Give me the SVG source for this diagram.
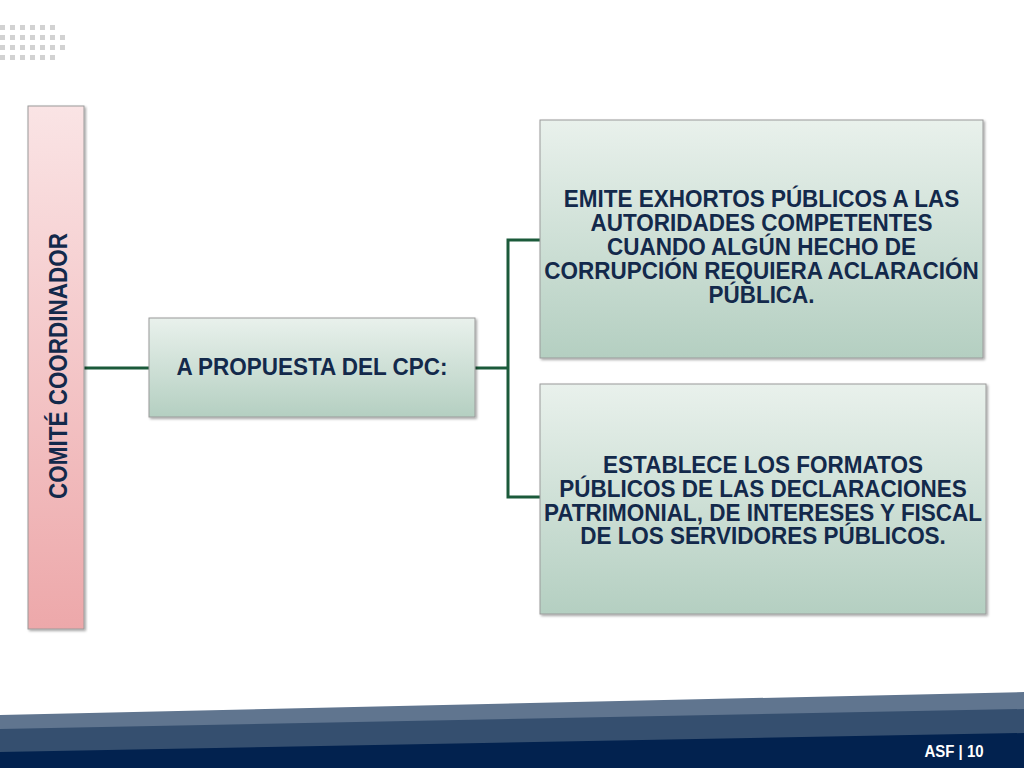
<svg xmlns="http://www.w3.org/2000/svg" width="1024" height="768" viewBox="0 0 1024 768">
<defs>
<linearGradient id="pink" x1="0" y1="0" x2="0" y2="1">
<stop offset="0" stop-color="#fae4e5"/>
<stop offset="1" stop-color="#eda8aa"/>
</linearGradient>
<linearGradient id="green" x1="0" y1="0" x2="0" y2="1">
<stop offset="0" stop-color="#e9f1ec"/>
<stop offset="1" stop-color="#b4cfc1"/>
</linearGradient>
<filter id="sh" x="-5%" y="-5%" width="112%" height="112%">
<feDropShadow dx="1.5" dy="1.5" stdDeviation="1.2" flood-color="#000" flood-opacity="0.35"/>
</filter>
<style>
.box{stroke:#9a9a9a;stroke-width:1;filter:url(#sh)}
.t{font-family:"Liberation Sans",Arial,sans-serif;font-weight:bold;font-size:22.5px;fill:#13294b;text-anchor:middle}
.conn{fill:none;stroke:#1b5a3a;stroke-width:3}
.dot{fill:#d2d2d2}
</style>
</defs>
<rect width="1024" height="768" fill="#ffffff"/>
<g id="dots">
<rect class="dot" x="0" y="25" width="5" height="5"/><rect class="dot" x="10" y="25" width="5" height="5"/><rect class="dot" x="20" y="25" width="5" height="5"/><rect class="dot" x="30" y="25" width="5" height="5"/><rect class="dot" x="40" y="25" width="5" height="5"/><rect class="dot" x="50" y="25" width="5" height="5"/>
<rect class="dot" x="0" y="35" width="5" height="5"/><rect class="dot" x="10" y="35" width="5" height="5"/><rect class="dot" x="20" y="35" width="5" height="5"/><rect class="dot" x="30" y="35" width="5" height="5"/><rect class="dot" x="40" y="35" width="5" height="5"/><rect class="dot" x="50" y="35" width="5" height="5"/><rect class="dot" x="60" y="35" width="5" height="5"/>
<rect class="dot" x="0" y="45" width="5" height="5"/><rect class="dot" x="10" y="45" width="5" height="5"/><rect class="dot" x="20" y="45" width="5" height="5"/><rect class="dot" x="30" y="45" width="5" height="5"/><rect class="dot" x="40" y="45" width="5" height="5"/><rect class="dot" x="50" y="45" width="5" height="5"/><rect class="dot" x="60" y="45" width="5" height="5"/>
<rect class="dot" x="0" y="55" width="5" height="5"/><rect class="dot" x="10" y="55" width="5" height="5"/><rect class="dot" x="20" y="55" width="5" height="5"/><rect class="dot" x="30" y="55" width="5" height="5"/><rect class="dot" x="40" y="55" width="5" height="5"/><rect class="dot" x="50" y="55" width="5" height="5"/>
</g>
<g id="footer">
<polygon points="0,715 1024,692 1024,768 0,768" fill="#60758f"/>
<polygon points="0,729 1024,709 1024,768 0,768" fill="#354f6f"/>
<polygon points="0,752 1024,733 1024,768 0,768" fill="#02224f"/>
<text transform="translate(954,757) scale(1,1.15)" x="0" y="0" font-family="'Liberation Sans',Arial,sans-serif" font-weight="bold" font-size="15" fill="#ffffff" text-anchor="middle">ASF | 10</text>
</g>
<g id="connectors">
<line class="conn" x1="84" y1="368" x2="149" y2="368"/>
<line class="conn" x1="475" y1="368" x2="508" y2="368"/>
<polyline class="conn" points="540,240 508,240 508,497 540,497"/>
</g>
<g id="comite">
<rect class="box" x="28" y="106" width="56" height="523" fill="url(#pink)"/>
<text class="t" transform="translate(67,366) rotate(-90) scale(1,1.15)" x="0" y="0">COMITÉ COORDINADOR</text>
</g>
<g id="propuesta">
<rect class="box" x="149" y="318" width="326" height="99" fill="url(#green)"/>
<text class="t" transform="translate(312,375) scale(1,1.1)" x="0" y="0">A PROPUESTA DEL CPC:</text>
</g>
<g id="exhortos">
<rect class="box" x="540" y="120" width="443" height="238" fill="url(#green)"/>
<text class="t" transform="translate(761.5,207) scale(1,1.1)" x="0" y="0">EMITE EXHORTOS PÚBLICOS A LAS</text>
<text class="t" transform="translate(761.5,231) scale(1,1.1)" x="0" y="0">AUTORIDADES COMPETENTES</text>
<text class="t" transform="translate(761.5,255) scale(1,1.1)" x="0" y="0">CUANDO ALGÚN HECHO DE</text>
<text class="t" transform="translate(761.5,279) scale(1,1.1)" x="0" y="0">CORRUPCIÓN REQUIERA ACLARACIÓN</text>
<text class="t" transform="translate(761.5,303) scale(1,1.1)" x="0" y="0">PÚBLICA.</text>
</g>
<g id="formatos">
<rect class="box" x="540" y="384" width="446" height="230" fill="url(#green)"/>
<text class="t" transform="translate(763,473) scale(1,1.1)" x="0" y="0">ESTABLECE LOS FORMATOS</text>
<text class="t" transform="translate(763,497) scale(1,1.1)" x="0" y="0">PÚBLICOS DE LAS DECLARACIONES</text>
<text class="t" transform="translate(763,520.5) scale(1,1.1)" x="0" y="0">PATRIMONIAL, DE INTERESES Y FISCAL</text>
<text class="t" transform="translate(763,544) scale(1,1.1)" x="0" y="0">DE LOS SERVIDORES PÚBLICOS.</text>
</g>
</svg>
